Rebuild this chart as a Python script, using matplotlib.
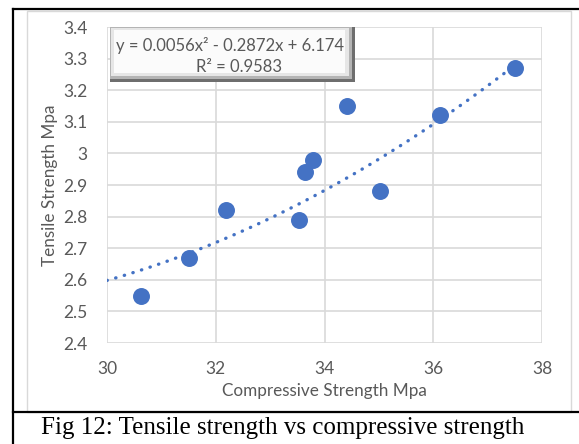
import numpy as np
import matplotlib.pyplot as plt
from matplotlib.patches import Rectangle
from matplotlib.lines import Line2D

# data
compressive = [30.62, 31.51, 32.18, 33.54, 33.65, 33.78, 34.42, 35.02, 36.13, 37.51]
tensile = [2.55, 2.67, 2.82, 2.79, 2.94, 2.98, 3.15, 2.88, 3.12, 3.27]
trend_coef = [0.0056, -0.2872, 6.174]
x_ticks = [30, 32, 34, 36, 38]
y_ticks = [2.4, 2.5, 2.6, 2.7, 2.8, 2.9, 3.0, 3.1, 3.2, 3.3, 3.4]
y_tick_labels = ['2.4', '2.5', '2.6', '2.7', '2.8', '2.9', '3', '3.1', '3.2', '3.3', '3.4']

W, H = 579, 444
BLUE = '#4472C4'
GRID = '#d9d9d9'
TXT = '#595959'
FONT = 'Lato'

def px(x0, y0, x1, y1):
    # pixel box (top-left origin) -> figure fraction rect
    return [x0 / W, 1 - y1 / H, (x1 - x0) / W, (y1 - y0) / H]

def box(x0, y0, x1, y1, **kw):
    fig.patches.append(Rectangle((x0 / W, 1 - y1 / H), (x1 - x0) / W, (y1 - y0) / H,
                                 transform=fig.transFigure, **kw))

fig = plt.figure(figsize=(W / 100, H / 100), dpi=100)
fig.patch.set_facecolor('white')

# chart area border
box(27, 11, 571, 412, fill=False, ec=GRID, lw=1)

# table borders
for xs, ys in [([13, 579], [9, 9]), ([13, 13], [9, 444]), ([13, 579], [412, 412])]:
    fig.lines.append(Line2D([x / W for x in xs], [1 - y / H for y in ys],
                            transform=fig.transFigure, color='black', lw=1.6))

ax = fig.add_axes(px(107, 27, 542, 343))
ax.set_xlim(30, 38)
ax.set_ylim(2.4, 3.4)
ax.set_xticks(x_ticks)
ax.set_yticks(y_ticks)
ax.set_yticklabels(y_tick_labels)
ax.grid(True, color=GRID, lw=1.2)
ax.set_axisbelow(True)
for s in ax.spines.values():
    s.set_visible(False)
ax.tick_params(axis='y', length=0, labelsize=12.5, labelcolor=TXT, pad=14)
ax.tick_params(axis='x', length=0, labelsize=12.5, labelcolor=TXT, pad=13)
for lab in ax.get_xticklabels() + ax.get_yticklabels():
    lab.set_fontfamily(FONT)

xt = np.linspace(30, 37.5, 100)
ax.plot(xt, np.polyval(trend_coef, xt), color=BLUE, lw=2.4, ls=(0, (0.1, 2.6)),
        dash_capstyle='round', zorder=2)
ax.scatter(compressive, tensile, s=125, color=BLUE, zorder=3, clip_on=False)

ax.set_xlabel('Compressive Strength Mpa', fontsize=12.3, color=TXT, family=FONT, labelpad=4)
ax.set_ylabel('Tensile Strength Mpa', fontsize=12.3, color=TXT, family=FONT, labelpad=4)

# equation box with bevel
bx0, by0, bx1, by1 = 110, 27, 355, 82
box(bx0, by0, bx1, by1, fc='#6e6e6e', ec='none', zorder=5)
box(bx0, by0, bx1 - 3, by1 - 3, fc='#b4b4b4', ec='none', zorder=5)
box(bx0 + 1, by0 + 1, bx1 - 6, by1 - 6, fc='#e6e6e6', ec='none', zorder=5)
box(bx0 + 4, by0 + 3, bx1 - 10, by1 - 9, fc='#fbfbfb', ec='none', zorder=5)
fig.text((bx0 + bx1 - 4) / 2 / W, 1 - 45 / H, 'y = 0.0056x² - 0.2872x + 6.174',
         ha='center', va='center', fontsize=12, color=TXT, family=FONT, zorder=6)
fig.text((bx0 + bx1 + 12) / 2 / W, 1 - 67 / H, 'R² = 0.9583',
         ha='center', va='center', fontsize=12, color=TXT, family=FONT, zorder=6)

fig.text(283 / W, 1 - 428 / H, 'Fig 12: Tensile strength vs compressive strength',
         ha='center', va='center', fontsize=18, family='Liberation Serif', color='black')

fig.savefig('out.png', dpi=100)
